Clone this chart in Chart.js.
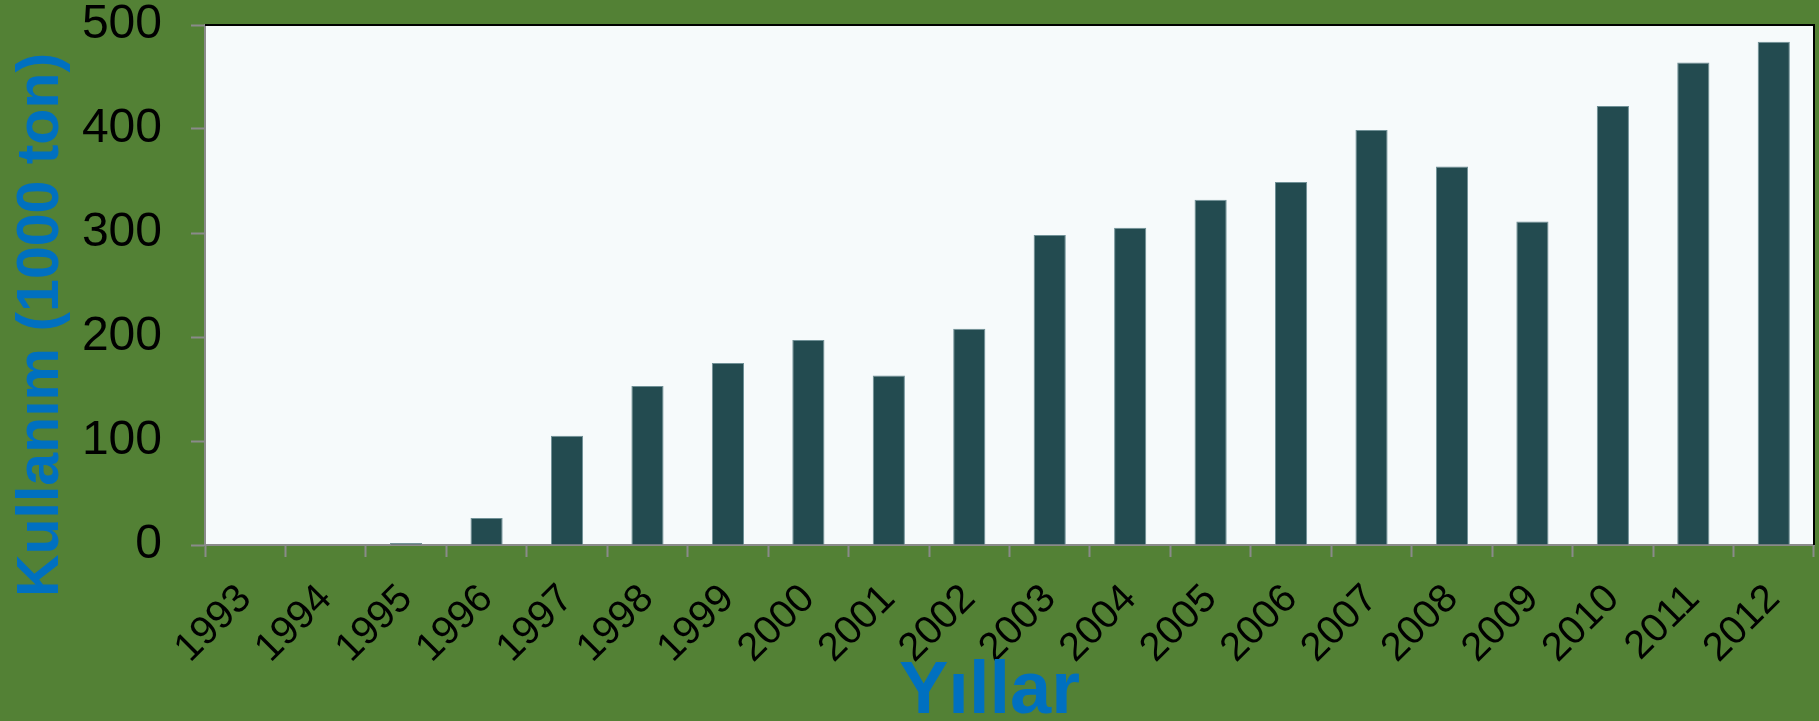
<!DOCTYPE html>
<html lang="tr">
<head>
<meta charset="utf-8">
<title>Kullanım (1000 ton)</title>
<script src="https://cdn.jsdelivr.net/npm/chart.js@4.4.1/dist/chart.umd.min.js"></script>
<style>
  html, body { margin: 0; padding: 0; background: #538135; }
  #wrap { position: relative; width: 1819px; height: 721px; }
</style>
</head>
<body>
<div id="wrap"><canvas id="usageChart"></canvas></div>
<script>
// ── Data ─────────────────────────────────────────────────────────────────────
const YEARS = ['1993','1994','1995','1996','1997','1998','1999','2000','2001','2002',
               '2003','2004','2005','2006','2007','2008','2009','2010','2011','2012'];
const USAGE = [0, 0, 2, 26, 105, 153, 175, 197, 163, 208,
               298, 305, 332, 349, 399, 364, 311, 422, 464, 484];
const Y_TICKS = [0, 100, 200, 300, 400, 500];
const X_TITLE = 'Yıllar';
const Y_TITLE = 'Kullanım (1000 ton)';

const FONT = '"Liberation Sans", Arial, sans-serif';
const AXIS_GRAY = '#8a8a8a';
const TITLE_BLUE = '#0070c0';

Chart.defaults.font.family = FONT;
Chart.defaults.color = '#000';

// plot background, black frame on top/right, and the two axis titles
const plotFrame = {
  id: 'plotFrame',
  beforeDraw(chart) {
    const { ctx, chartArea: a } = chart;
    ctx.save();
    ctx.fillStyle = '#f6fafb';
    ctx.fillRect(a.left, a.top, a.right - a.left, a.bottom - a.top);
    ctx.restore();
  },
  afterDraw(chart) {
    const { ctx, chartArea: a } = chart;
    ctx.save();
    ctx.strokeStyle = '#000';
    ctx.lineWidth = 2;
    ctx.beginPath();
    ctx.moveTo(a.left, a.top);
    ctx.lineTo(a.right, a.top);
    ctx.lineTo(a.right, a.bottom);
    ctx.stroke();

    ctx.fillStyle = TITLE_BLUE;
    ctx.textAlign = 'center';
    ctx.textBaseline = 'alphabetic';
    ctx.font = `bold 74px ${FONT}`;
    ctx.fillText(X_TITLE, (a.left + a.right) / 2 - 20, chart.height - 8);

    ctx.font = `bold 59px ${FONT}`;
    ctx.translate(58, (a.top + a.bottom) / 2 + 40);
    ctx.rotate(-Math.PI / 2);
    ctx.fillText(Y_TITLE, 0, 0);
    ctx.restore();
  }
};

new Chart(document.getElementById('usageChart'), {
  type: 'bar',
  data: {
    labels: YEARS,
    datasets: [{
      label: Y_TITLE,
      data: USAGE,
      backgroundColor: '#234b50',
      borderColor: '#6f9096',
      borderWidth: 1,
      borderSkipped: 'start',
      barPercentage: 0.4,
      categoryPercentage: 1,
    }],
  },
  options: {
    responsive: true,
    maintainAspectRatio: false,
    animation: false,
    layout: { padding: { top: 25, right: 5, bottom: 0, left: 0 } },
    plugins: {
      legend: { display: false },
      tooltip: { enabled: false },
    },
    scales: {
      x: {
        offset: true,
        grid: { drawOnChartArea: false, offset: true, color: AXIS_GRAY, tickLength: 12, tickWidth: 2 },
        border: { color: AXIS_GRAY, width: 2 },
        ticks: {
          autoSkip: false,
          minRotation: 45,
          maxRotation: 45,
          padding: 34,
          color: '#000',
          font: { size: 40, lineHeight: 0.1 },
        },
        afterFit(scale) {
          scale.height = 176;
          scale.paddingLeft = 0;
          scale.paddingRight = 0;
        },
      },
      y: {
        min: 0,
        max: 500,
        grid: { drawOnChartArea: false, color: AXIS_GRAY, tickLength: 14, tickWidth: 2 },
        border: { color: AXIS_GRAY, width: 2 },
        ticks: { padding: 29, color: '#000', font: { size: 48 } },
        afterBuildTicks(scale) { scale.ticks = Y_TICKS.map(v => ({ value: v })); },
        afterFit(scale) {
          scale.width = 205;
          scale.paddingTop = 0;
          scale.paddingBottom = 0;
        },
      },
    },
  },
  plugins: [plotFrame],
});
</script>
</body>
</html>
